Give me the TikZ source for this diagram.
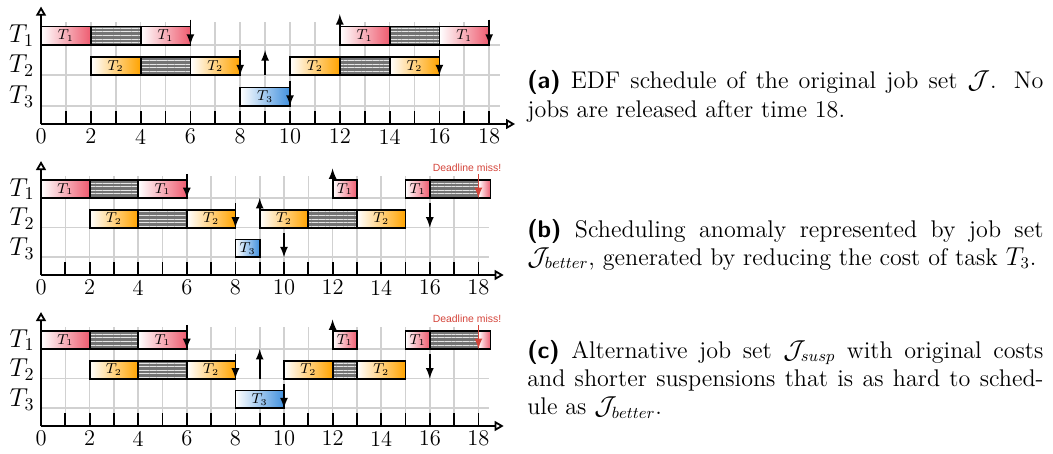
\documentclass[tikz,border=0pt]{standalone}
\usepackage{fontspec}
\newfontfamily\missfont{Liberation Sans}
\usetikzlibrary{arrows.meta,patterns.meta}

\definecolor{taskone}{RGB}{238,92,112}
\definecolor{tasktwo}{RGB}{255,163,0}
\definecolor{taskthree}{RGB}{66,145,222}
\definecolor{missred}{RGB}{212,68,58}

% one job segment: name, style, start, end, row, label
\newcommand{\jobbar}[6]{%
  \draw[#2] (#3,#5) rectangle (#4,#5+0.6);
  \node[boxlabel] (#1) at ({(#3+#4)/2},#5+0.3) {#6};}
% one suspension segment: start, end, row
\newcommand{\suspbar}[3]{\draw[suspbox] (#1,#3) rectangle (#2,#3+0.6);}
% release (up) and deadline (down) arrows
\newcommand{\release}[3]{\draw[relarrow] (#1,#2) -- (#1,#2+#3);}
\newcommand{\deadline}[2]{\draw[relarrow] (#1,#2+0.82) -- (#1,#2);}
% grid, axes and labels of one schedule
\newcommand{\schedframe}[1]{%
  \foreach \x in {1,...,18} \draw[gridline] (\x,0) -- (\x,3.33);
  \foreach \y in {0.6,1.6,2.6} \draw[gridline] (0,\y) -- (18.45,\y);
  \foreach \x in {1,...,18} \draw[tickmark] (\x,0) -- (\x,0.43);
  \foreach \x in {0,2,...,18} \node[ticklabel] (#1tick\x) at (\x,0) {\x};
  \node[tasklabel] (#1taskone) at (-0.78,2.9) {$T_1$};
  \node[tasklabel] (#1tasktwo) at (-0.78,1.9) {$T_2$};
  \node[tasklabel] (#1taskthree) at (-0.78,0.9) {$T_3$};}
\newcommand{\schedaxes}{%
  \draw[axisline] (0,0) -- (0,3.85);
  \draw[axisline] (0,0) -- (19.04,0);}

\begin{document}
\begin{tikzpicture}[
    gridline/.style={draw=black!18, line width=0.9pt},
    tickmark/.style={draw=black, line width=1pt},
    axisline/.style={draw=black, line width=1pt, -{Triangle[open,length=5pt,width=5.5pt]}},
    jobone/.style={draw=black, line width=1pt, left color=white, right color=taskone},
    jobtwo/.style={draw=black, line width=1pt, left color=white, right color=tasktwo},
    jobthree/.style={draw=black, line width=1pt, left color=white, right color=taskthree},
    suspbox/.style={draw=black, line width=1pt, preaction={fill=black!55},
        pattern={Lines[angle=0,distance=2pt,line width=0.6pt]}, pattern color=black!10},
    boxlabel/.style={inner sep=0pt, font=\fontsize{7.8}{8}\selectfont},
    ticklabel/.style={anchor=north, inner sep=2.5pt, font=\fontsize{12.5}{14}\selectfont},
    tasklabel/.style={inner sep=0pt, font=\fontsize{14.5}{16}\selectfont},
    relarrow/.style={draw=black, line width=1pt, -latex},
    missarrow/.style={draw=missred, line width=1pt, -latex},
    misstext/.style={inner sep=0pt, text=missred, font=\missfont\fontsize{5.8}{7}\selectfont},
    captext/.style={anchor=base west, inner sep=0pt, text width=10.08cm, align=justify,
        font=\fontsize{13.4}{15.6}\selectfont},
  ]
  \useasboundingbox (0,0) rectangle (20.566,-8.848);

  %Schedule (a)
  \begin{scope}[shift={(0.801,-2.422)}, x=0.4863cm, y=0.5957cm]
    \schedframe{a}
    \jobbar{aone1}{jobone}{0}{2}{2.6}{$T_1$}
    \suspbar{2}{4}{2.6}
    \jobbar{aone2}{jobone}{4}{6}{2.6}{$T_1$}
    \jobbar{aone3}{jobone}{12}{14}{2.6}{$T_1$}
    \suspbar{14}{16}{2.6}
    \jobbar{aone4}{jobone}{16}{18}{2.6}{$T_1$}
    \jobbar{atwo1}{jobtwo}{2}{4}{1.6}{$T_2$}
    \suspbar{4}{6}{1.6}
    \jobbar{atwo2}{jobtwo}{6}{8}{1.6}{$T_2$}
    \jobbar{atwo3}{jobtwo}{10}{12}{1.6}{$T_2$}
    \suspbar{12}{14}{1.6}
    \jobbar{atwo4}{jobtwo}{14}{16}{1.6}{$T_2$}
    \jobbar{athree1}{jobthree}{8}{10}{0.6}{$T_3$}
    \deadline{6}{2.6}
    \deadline{18}{2.6}
    \release{12}{2.6}{1}
    \deadline{8}{1.6}
    \deadline{16}{1.6}
    \release{9}{1.6}{0.82}
    \deadline{10}{0.6}
    \schedaxes
  \end{scope}

  %Schedule (b)
  \begin{scope}[shift={(0.801,-5.371)}, x=0.4746cm, y=0.578cm]
    \schedframe{b}
    \jobbar{bone1}{jobone}{0}{2}{2.6}{$T_1$}
    \suspbar{2}{4}{2.6}
    \jobbar{bone2}{jobone}{4}{6}{2.6}{$T_1$}
    \jobbar{bone3}{jobone}{12}{13}{2.6}{$T_1$}
    \jobbar{bone4}{jobone}{15}{16}{2.6}{$T_1$}
    \suspbar{16}{18}{2.6}
    \jobbar{bone5}{jobone}{18}{18.5}{2.6}{}
    \jobbar{btwo1}{jobtwo}{2}{4}{1.6}{$T_2$}
    \suspbar{4}{6}{1.6}
    \jobbar{btwo2}{jobtwo}{6}{8}{1.6}{$T_2$}
    \jobbar{btwo3}{jobtwo}{9}{11}{1.6}{$T_2$}
    \suspbar{11}{13}{1.6}
    \jobbar{btwo4}{jobtwo}{13}{15}{1.6}{$T_2$}
    \jobbar{bthree1}{jobthree}{8}{9}{0.6}{$T_3$}
    \deadline{6}{2.6}
    \release{12}{2.6}{1}
    \deadline{8}{1.6}
    \release{9}{1.6}{1}
    \deadline{16}{1.6}
    \deadline{10}{0.6}
    \node[misstext] (bmiss) at (17.53,3.61) {Deadline miss!};
    \draw[missarrow] (18,3.4) -- (18,2.6);
    \schedaxes
  \end{scope}

  %Schedule (c)
  \begin{scope}[shift={(0.801,-8.320)}, x=0.4746cm, y=0.578cm]
    \schedframe{c}
    \jobbar{cone1}{jobone}{0}{2}{2.6}{$T_1$}
    \suspbar{2}{4}{2.6}
    \jobbar{cone2}{jobone}{4}{6}{2.6}{$T_1$}
    \jobbar{cone3}{jobone}{12}{13}{2.6}{$T_1$}
    \jobbar{cone4}{jobone}{15}{16}{2.6}{$T_1$}
    \suspbar{16}{18}{2.6}
    \jobbar{cone5}{jobone}{18}{18.5}{2.6}{}
    \jobbar{ctwo1}{jobtwo}{2}{4}{1.6}{$T_2$}
    \suspbar{4}{6}{1.6}
    \jobbar{ctwo2}{jobtwo}{6}{8}{1.6}{$T_2$}
    \jobbar{ctwo3}{jobtwo}{10}{12}{1.6}{$T_2$}
    \suspbar{12}{13}{1.6}
    \jobbar{ctwo4}{jobtwo}{13}{15}{1.6}{$T_2$}
    \jobbar{cthree1}{jobthree}{8}{10}{0.6}{$T_3$}
    \deadline{6}{2.6}
    \release{12}{2.6}{1}
    \deadline{8}{1.6}
    \release{9}{1.6}{1}
    \deadline{16}{1.6}
    \deadline{10}{0.6}
    \node[misstext] (cmiss) at (17.53,3.61) {Deadline miss!};
    \draw[missarrow] (18,3.4) -- (18,2.6);
    \schedaxes
  \end{scope}

  %Captions
  \node[captext] (capa) at (10.293,-1.738) {\textsf{\textbf{(a)}} EDF schedule of the original job set $\mathcal{J}$. No\linebreak jobs are released after time 18.};
  \node[captext] (capb) at (10.293,-4.629) {\textsf{\textbf{(b)}} Scheduling anomaly represented by job set\linebreak $\mathcal{J}_{better}$, generated by reducing the cost of task $T_3$.};
  \node[captext] (capc) at (10.293,-6.992) {\textsf{\textbf{(c)}} Alternative job set $\mathcal{J}_{susp}$ with original costs\linebreak and shorter suspensions that is as hard to sched-\linebreak ule as $\mathcal{J}_{better}$.};
\end{tikzpicture}
\end{document}
